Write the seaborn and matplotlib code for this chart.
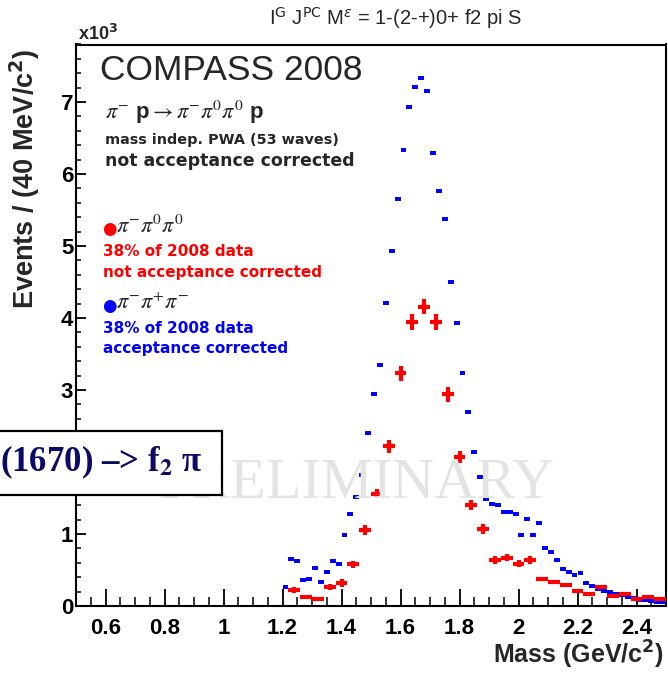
import matplotlib
matplotlib.use("Agg")
import matplotlib.pyplot as plt
from matplotlib.ticker import MultipleLocator, FuncFormatter
from matplotlib.patches import Rectangle
import pandas as pd
import seaborn as sns

# pi- pi+ pi- sample, acceptance corrected, 20 MeV bins (events x 10^3)
mass_charged = [1.21, 1.23, 1.25, 1.27, 1.29, 1.31, 1.33, 1.35, 1.37, 1.39,
                1.41, 1.43, 1.45, 1.47, 1.49, 1.51, 1.53, 1.55, 1.57, 1.59,
                1.61, 1.63, 1.65, 1.67, 1.69, 1.71, 1.73, 1.75, 1.77, 1.79,
                1.81, 1.83, 1.85, 1.87, 1.89, 1.91, 1.93, 1.95, 1.97, 1.99,
                2.01, 2.03, 2.05, 2.07, 2.09, 2.11, 2.13, 2.15, 2.17, 2.19,
                2.21, 2.23, 2.25, 2.27, 2.29, 2.31, 2.33, 2.35, 2.37, 2.39,
                2.41, 2.43, 2.45, 2.47, 2.49]
events_charged = [0.27, 0.65, 0.63, 0.36, 0.37, 0.53, 0.34, 0.47, 0.62, 0.58,
                  0.98, 1.28, 1.52, 1.82, 2.40, 2.95, 3.35, 4.21, 4.93, 5.65,
                  6.34, 6.93, 7.21, 7.34, 7.16, 6.29, 5.76, 5.38, 4.50, 3.93,
                  3.24, 2.69, 2.14, 1.79, 1.49, 1.41, 1.40, 1.31, 1.30, 1.28,
                  0.98, 1.21, 0.98, 1.15, 0.81, 0.75, 0.64, 0.52, 0.47, 0.43,
                  0.46, 0.32, 0.28, 0.24, 0.21, 0.19, 0.17, 0.15, 0.13, 0.11,
                  0.09, 0.08, 0.075, 0.06, 0.05]

# pi- pi0 pi0 sample, not acceptance corrected, 40 MeV bins (events x 10^3)
mass_neutral = [1.24, 1.28, 1.32, 1.36, 1.40, 1.44, 1.48, 1.52, 1.56, 1.60,
                1.64, 1.68, 1.72, 1.76, 1.80, 1.84, 1.88, 1.92, 1.96, 2.00,
                2.04, 2.08, 2.12, 2.16, 2.20, 2.24, 2.28, 2.32, 2.36, 2.40,
                2.44, 2.48]
events_neutral = [0.22, 0.125, 0.095, 0.26, 0.32, 0.58, 1.05, 1.56, 2.22, 3.23,
                  3.94, 4.16, 3.95, 2.94, 2.07, 1.40, 1.07, 0.64, 0.67, 0.59,
                  0.64, 0.38, 0.34, 0.29, 0.21, 0.165, 0.26, 0.145, 0.165, 0.10,
                  0.13, 0.10]
errors_neutral = [0.04, 0.02, 0.02, 0.04, 0.05, 0.05, 0.07, 0.06, 0.09, 0.10,
                  0.11, 0.11, 0.11, 0.10, 0.09, 0.07, 0.07, 0.05, 0.05, 0.05,
                  0.05, 0.02, 0.02, 0.02, 0.02, 0.02, 0.02, 0.02, 0.02, 0.015,
                  0.015, 0.015]

x_ticks_major = 0.2
y_ticks_major = 1.0

W, H = 668, 673
RED = "#ff0000"
BLUE = "#0000ff"

sns.set_theme(style="white")
plt.rcParams["font.family"] = ["Liberation Sans", "DejaVu Sans"]

fig = plt.figure(figsize=(W / 100, H / 100), dpi=100)


def fx(px):
    return px / W


def fy(py):
    return 1 - py / H


ax = fig.add_axes([fx(76), 67 / H, 590 / W, 561.5 / H])

charged = pd.DataFrame({"mass": mass_charged, "events": events_charged})
neutral = pd.DataFrame({"mass": mass_neutral, "events": events_neutral,
                        "err": errors_neutral})

# charged-pion points: short horizontal bin-width bars with a square core
ax.errorbar(charged["mass"], charged["events"], xerr=0.01, fmt="none",
            ecolor=BLUE, elinewidth=2.8, capsize=0, zorder=3)
sns.scatterplot(data=charged, x="mass", y="events", marker="s", s=12,
                color=BLUE, linewidth=0, ax=ax, zorder=3)

# neutral-pion points: crosses from bin width and statistical error
ax.errorbar(neutral["mass"], neutral["events"], xerr=0.02, yerr=neutral["err"],
            fmt="none", ecolor=RED, elinewidth=3.0, capsize=0, zorder=4)

ax.set_xlim(0.5, 2.5)
ax.set_ylim(0, 7.8)
ax.set_xlabel("")
ax.set_ylabel("")

ax.xaxis.set_major_locator(MultipleLocator(x_ticks_major))
ax.xaxis.set_minor_locator(MultipleLocator(0.05))
ax.yaxis.set_major_locator(MultipleLocator(y_ticks_major))
ax.yaxis.set_minor_locator(MultipleLocator(0.2))
ax.xaxis.set_major_formatter(FuncFormatter(lambda v, p: f"{v:g}"))
ax.yaxis.set_major_formatter(FuncFormatter(lambda v, p: f"{v:g}"))

ax.tick_params(axis="x", which="major", direction="in", length=12, width=1.3,
               pad=9, labelsize=16, colors="black", bottom=True, top=False)
ax.tick_params(axis="x", which="minor", direction="in", length=6.5, width=1.3,
               bottom=True, top=False)
ax.tick_params(axis="y", which="major", direction="in", length=7, width=1.3,
               pad=2, labelsize=16, colors="black", left=True, right=False)
ax.tick_params(axis="y", which="minor", direction="in", length=3.8, width=1.3,
               left=True, right=False)
for lab in ax.get_xticklabels() + ax.get_yticklabels():
    lab.set_fontweight("bold")

for sp in ax.spines.values():
    sp.set_color("black")
    sp.set_linewidth(1.5)
    sp.set_visible(True)

# axis titles and exponent
fig.text(fx(664), fy(655), r"Mass (GeV/c$^{\mathbf{2}}$)", fontsize=18,
         fontweight="bold", ha="right", va="center")
fig.text(fx(25), fy(48), r"Events / (40 MeV/c$^{\mathbf{2}}$)", fontsize=19.5,
         fontweight="bold", rotation=90, ha="center", va="top")
fig.text(fx(78), fy(34), r"x10$^{\mathbf{3}}$", fontsize=13,
         fontweight="bold", ha="left", va="center")

# histogram title
fig.text(fx(396), fy(18),
         r"I$^{\mathrm{G}}$ J$^{\mathrm{PC}}$ M$^{\varepsilon}$ = 1-(2-+)0+ f2 pi S",
         fontsize=14.5, ha="center", va="center")

# experiment labels
fig.text(fx(100), fy(71), "COMPASS 2008", fontsize=25.5, ha="left",
         va="center")
fig.text(fx(105), fy(112), r"$\pi^{-}$ p$\rightarrow\pi^{-}\pi^{0}\pi^{0}$ p",
         fontsize=16, fontweight="bold", math_fontfamily="stix",
         ha="left", va="center")
fig.text(fx(105), fy(140), "mass indep. PWA (53 waves)", fontsize=10.4,
         fontweight="bold", family="DejaVu Sans", ha="left", va="center")
fig.text(fx(105), fy(161), "not acceptance corrected", fontsize=12.5,
         fontweight="bold", family="DejaVu Sans", ha="left", va="center")

# sample descriptions
fig.text(fx(102), fy(229), "\u25cf", fontsize=12, color=RED,
         family="DejaVu Sans", ha="left", va="center")
fig.text(fx(116), fy(227), r"$\pi^{-}\pi^{0}\pi^{0}$", fontsize=16,
         math_fontfamily="stix", ha="left", va="center")
fig.text(fx(103), fy(251), "38% of 2008 data", fontsize=11, color=RED,
         fontweight="bold", family="DejaVu Sans", ha="left", va="center")
fig.text(fx(103), fy(272), "not acceptance corrected", fontsize=11, color=RED,
         fontweight="bold", family="DejaVu Sans", ha="left", va="center")

fig.text(fx(102), fy(306), "\u25cf", fontsize=12, color=BLUE,
         family="DejaVu Sans", ha="left", va="center")
fig.text(fx(116), fy(304), r"$\pi^{-}\pi^{+}\pi^{-}$", fontsize=16,
         math_fontfamily="stix", ha="left", va="center")
fig.text(fx(103), fy(328), "38% of 2008 data", fontsize=11, color=BLUE,
         fontweight="bold", family="DejaVu Sans", ha="left", va="center")
fig.text(fx(103), fy(348), "acceptance corrected", fontsize=11, color=BLUE,
         fontweight="bold", family="DejaVu Sans", ha="left", va="center")

# watermark drawn over the data
fig.text(fx(357), fy(484), "PRELIMINARY", fontsize=42, color="#e4e4e4",
         family="Liberation Serif", ha="center", va="center", zorder=4)

# decay-channel box
fig.add_artist(Rectangle((fx(-5), fy(495)), 227 / W, 64 / H,
                         transform=fig.transFigure, facecolor="white",
                         edgecolor="black", linewidth=1.6, zorder=5))
fig.text(fx(0), fy(462), "(1670) \u2013> f$_{\\mathbf{2}}$ \u03c0",
         fontsize=25, fontweight="bold", color="#0b0b66",
         family="Liberation Serif", math_fontfamily="stix",
         ha="left", va="center", zorder=6)

fig.savefig("out.png", dpi=100)
